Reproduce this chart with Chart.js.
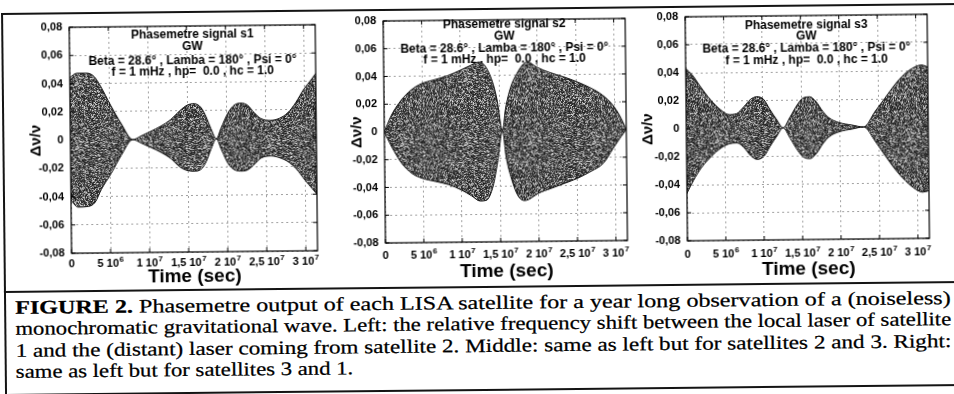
<!DOCTYPE html>
<html><head><meta charset="utf-8">
<script src="https://cdn.jsdelivr.net/npm/chart.js@4.4.1/dist/chart.umd.min.js"></script>
<style>
html,body{margin:0;padding:0;background:#fff;width:954px;height:394px;overflow:hidden}
#page{position:absolute;left:0;top:0;width:954px;height:394px;transform:rotate(-0.6deg);transform-origin:477px 197px}
.rule{position:absolute;background:#141414}
canvas{position:absolute}
.cap{position:absolute;left:14px;font-family:"Liberation Serif","Times New Roman",serif;font-size:19px;line-height:21.5px;color:#000;white-space:nowrap;transform-origin:0 50%;-webkit-text-stroke:0.25px #000}
</style>
</head><body>
<div id="page">
  <div class="rule" style="left:3px;top:8px;width:960px;height:2px"></div>
  <div class="rule" style="left:3px;top:8px;width:2px;height:384px"></div>
  <div class="rule" style="left:3px;top:285.5px;width:960px;height:2px"></div>
  <div class="rule" style="left:3px;top:389px;width:960px;height:2px"></div>
  <canvas id="c1" width="325" height="290" style="left:0px;top:0px"></canvas>
  <canvas id="c2" width="315" height="290" style="left:325px;top:0px"></canvas>
  <canvas id="c3" width="314" height="290" style="left:640px;top:0px"></canvas>
  <div class="cap j" style="top:291.5px"><b>FIGURE 2.</b> Phasemetre output of each LISA satellite for a year long observation of a (noiseless)</div>
  <div class="cap j" style="top:313px">monochromatic gravitational wave. Left: the relative frequency shift between the local laser of satellite</div>
  <div class="cap j" style="top:334.5px">1 and the (distant) laser coming from satellite 2. Middle: same as left but for satellites 2 and 3. Right:</div>
  <div class="cap" id="last" style="top:356px">same as left but for satellites 3 and 1.</div>
</div>
<script>
// ---------- data ----------
const timeTicks = [0, 5e6, 1e7, 1.5e7, 2e7, 2.5e7, 3e7];
const timeTickBase = ['0', '5 10', '1 10', '1,5 10', '2 10', '2,5 10', '3 10'];
const timeTickExp  = ['', '6', '7', '7', '7', '7', '7'];
const yTicks = [-0.08, -0.06, -0.04, -0.02, 0, 0.02, 0.04, 0.06, 0.08];
const yTickLabels = ['-0,08', '-0,06', '-0,04', '-0,02', '0', '0,02', '0,04', '0,06', '0,08'];
const timeMax = 3.15e7;
const xTitle = 'Time (sec)';
const yTitle = '\u0394\u03bd/\u03bd';

const title1 = ['Phasemetre signal s1', 'GW', 'Beta = 28.6\u00b0 , Lamba = 180\u00b0 , Psi = 0\u00b0', 'f = 1 mHz , hp=  0.0 , hc = 1.0'];
const title2 = ['Phasemetre signal s2', 'GW', 'Beta = 28.6\u00b0 , Lamba = 180\u00b0 , Psi = 0\u00b0', 'f = 1 mHz , hp=  0.0 , hc = 1.0'];
const title3 = ['Phasemetre signal s3', 'GW', 'Beta = 28.6\u00b0 , Lamba = 180\u00b0 , Psi = 0\u00b0', 'f = 1 mHz , hp=  0.0 , hc = 1.0'];

// signal s1 envelope (time in s, upper / lower extent of the oscillation)
const s1Time  = [0, 0.09e7, 0.22e7, 0.31e7, 0.39e7, 0.52e7, 0.65e7, 0.8e7, 0.91e7, 1.03e7, 1.16e7, 1.29e7, 1.4e7, 1.5e7, 1.59e7, 1.68e7, 1.74e7, 1.8e7, 1.87e7, 1.93e7, 2.02e7, 2.1e7, 2.19e7, 2.27e7, 2.36e7, 2.44e7, 2.57e7, 2.68e7, 2.79e7, 2.89e7, 3.0e7, 3.09e7, 3.15e7];
const s1Upper = [0.0443, 0.0474, 0.0474, 0.045, 0.0383, 0.0245, 0.0117, 0, 0.0026, 0.0057, 0.0093, 0.014, 0.0198, 0.024, 0.025, 0.022, 0.0157, 0.0074, 0, 0.0074, 0.018, 0.0236, 0.025, 0.0236, 0.018, 0.014, 0.0126, 0.014, 0.018, 0.025, 0.0348, 0.041, 0.0455];
const s1Lower = [-0.0426, -0.0474, -0.047, -0.044, -0.035, -0.0236, -0.011, 0, -0.0026, -0.0057, -0.0093, -0.014, -0.0198, -0.0224, -0.0228, -0.021, -0.0157, -0.0074, 0, -0.0074, -0.018, -0.0222, -0.0231, -0.0222, -0.018, -0.014, -0.0126, -0.014, -0.017, -0.022, -0.030, -0.036, -0.040];

// signal s2 envelope
const s2Time  = [0, 0.095e7, 0.224e7, 0.353e7, 0.483e7, 0.655e7, 0.828e7, 1.0e7, 1.13e7, 1.24e7, 1.32e7, 1.41e7, 1.47e7, 1.54e7, 1.58e7, 1.65e7, 1.73e7, 1.82e7, 1.88e7, 1.99e7, 2.16e7, 2.34e7, 2.51e7, 2.68e7, 2.85e7, 2.98e7, 3.07e7, 3.15e7];
const s2Upper = [0, 0.012, 0.0228, 0.030, 0.0344, 0.0372, 0.040, 0.044, 0.0473, 0.0497, 0.0468, 0.036, 0.0228, 0, 0.0156, 0.0312, 0.0408, 0.048, 0.0492, 0.0456, 0.0416, 0.0384, 0.0348, 0.0305, 0.0247, 0.0175, 0.0096, 0];
const s2Lower = [0, -0.0108, -0.0228, -0.030, -0.0336, -0.036, -0.0384, -0.0425, -0.0468, -0.0505, -0.050, -0.0396, -0.0228, 0, -0.018, -0.0348, -0.0468, -0.0505, -0.0495, -0.0456, -0.042, -0.0384, -0.0348, -0.030, -0.024, -0.0132, -0.006, 0];

// signal s3 envelope
const s3Time  = [0, 0.086e7, 0.19e7, 0.32e7, 0.45e7, 0.56e7, 0.66e7, 0.75e7, 0.84e7, 0.92e7, 1.01e7, 1.09e7, 1.18e7, 1.26e7, 1.35e7, 1.44e7, 1.52e7, 1.61e7, 1.69e7, 1.78e7, 1.86e7, 1.99e7, 2.16e7, 2.31e7, 2.46e7, 2.59e7, 2.72e7, 2.85e7, 2.98e7, 3.07e7, 3.15e7];
const s3Upper = [0.0431, 0.0383, 0.030, 0.0205, 0.0133, 0.0098, 0.0105, 0.0152, 0.0205, 0.0224, 0.0205, 0.0133, 0.0057, 0, 0.0074, 0.0157, 0.021, 0.0219, 0.0186, 0.0114, 0.0067, 0.0033, 0.0014, 0, 0.011, 0.0205, 0.030, 0.0376, 0.0424, 0.0438, 0.0424];
const s3Lower = [-0.046, -0.037, -0.028, -0.020, -0.014, -0.011, -0.0105, -0.014, -0.020, -0.0224, -0.020, -0.013, -0.0057, 0, -0.0074, -0.0157, -0.021, -0.0222, -0.0186, -0.0114, -0.0067, -0.0033, -0.0014, 0, -0.0105, -0.021, -0.031, -0.039, -0.045, -0.047, -0.046];

// ---------- drawing ----------
const SANS = '"Liberation Sans", Arial, Helvetica, sans-serif';
Chart.defaults.font.family = SANS;
Chart.defaults.color = '#000';

// speckled grey texture for the dense oscillation (deterministic hash tile)
const tile = document.createElement('canvas');
tile.width = 64; tile.height = 64;
(function(){
  const g = tile.getContext('2d');
  const img = g.createImageData(tile.width, tile.height);
  function h(x, y) {
    let n = (Math.imul(x + 1, 73856093) ^ Math.imul(y + 7, 19349663)) | 0;
    n ^= n >>> 16; n = Math.imul(n, 0x85ebca6b);
    n ^= n >>> 13; n = Math.imul(n, 0xc2b2ae35);
    n ^= n >>> 16;
    return (n >>> 0) / 4294967296;
  }
  for (let yy = 0; yy < tile.height; yy++) for (let xx = 0; xx < tile.width; xx++) {
    const r = h(xx, yy);
    const v = r < 0.45 ? 25 + r * 100 : (r < 0.8 ? 70 + (r - 0.45) * 230 : 150 + (r - 0.8) * 400);
    const k = (yy * tile.width + xx) * 4;
    img.data[k] = img.data[k + 1] = img.data[k + 2] = Math.round(v);
    img.data[k + 3] = 255;
  }
  g.putImageData(img, 0, 0);
})();

const panelDecor = {
  id: 'panelDecor',
  beforeDatasetsDraw(chart, args, opts) {
    const {ctx, chartArea: a} = chart;
    ctx.save();
    ctx.fillStyle = '#000';
    ctx.font = 'bold 12px ' + SANS;
    ctx.textAlign = 'center';
    ctx.textBaseline = 'middle';
    opts.lines.forEach((s, i) => ctx.fillText(s, (a.left + a.right) / 2, a.top + opts.offsets[i]));
    ctx.restore();
  },
  afterDraw(chart, args, opts) {
    const {ctx, chartArea: a, scales: {x, y}} = chart;
    ctx.save();
    ctx.strokeStyle = '#000';
    ctx.lineWidth = 1.2;
    ctx.strokeRect(a.left, a.top, a.right - a.left, a.bottom - a.top);
    ctx.lineWidth = 1;
    ctx.beginPath();
    x.ticks.forEach(t => {
      const p = x.getPixelForValue(t.value);
      ctx.moveTo(p, a.bottom); ctx.lineTo(p, a.bottom - 4);
      ctx.moveTo(p, a.top); ctx.lineTo(p, a.top + 4);
    });
    y.ticks.forEach(t => {
      const p = y.getPixelForValue(t.value);
      ctx.moveTo(a.left, p); ctx.lineTo(a.left + 4, p);
      ctx.moveTo(a.right, p); ctx.lineTo(a.right - 4, p);
    });
    ctx.stroke();
    // x tick labels with raised exponents
    ctx.fillStyle = '#000';
    ctx.textBaseline = 'middle';
    ctx.textAlign = 'left';
    const yc = a.bottom + opts.labelOffset;
    x.ticks.forEach((t, i) => {
      const p = x.getPixelForValue(t.value);
      ctx.font = 'bold 11px ' + SANS;
      const base = timeTickBase[i];
      const wb = ctx.measureText(base).width;
      ctx.font = 'bold 8px ' + SANS;
      const ex = timeTickExp[i];
      const we = ex ? ctx.measureText(ex).width + 0.5 : 0;
      const x0 = p - (wb + we) / 2;
      ctx.font = 'bold 11px ' + SANS;
      ctx.fillText(base, x0, yc);
      if (ex) { ctx.font = 'bold 8px ' + SANS; ctx.fillText(ex, x0 + wb + 0.5, yc - 4); }
    });
    ctx.restore();
  }
};

function makePanel(id, time, upper, lower, lines, g) {
  const canvas = document.getElementById(id);
  const ctx = canvas.getContext('2d');
  const pattern = ctx.createPattern(tile, 'repeat');
  const up = time.map((t, i) => ({x: t, y: upper[i]}));
  const lo = time.map((t, i) => ({x: t, y: lower[i]}));
  const grid = {color: '#a0a0a0', lineWidth: 1, drawTicks: false};
  new Chart(ctx, {
    type: 'line',
    data: {datasets: [
      {data: up, borderColor: '#111', borderWidth: 1, pointRadius: 0, fill: false, cubicInterpolationMode: 'monotone'},
      {data: lo, borderColor: '#111', borderWidth: 1, pointRadius: 0, fill: '-1', backgroundColor: pattern, cubicInterpolationMode: 'monotone'}
    ]},
    options: {
      responsive: false, animation: false, devicePixelRatio: 1, events: [],
      layout: {padding: {top: g.top, right: canvas.width - g.right, left: 0, bottom: 0}},
      plugins: {legend: {display: false}, tooltip: {enabled: false},
        panelDecor: {lines: lines, offsets: g.titleOffsets, labelOffset: g.labelOffset}},
      scales: {
        x: {
          type: 'linear', min: 0, max: timeMax,
          afterBuildTicks: s => { s.ticks = timeTicks.map(v => ({value: v})); },
          afterFit: s => { s.height = canvas.height - g.bottom; },
          ticks: {display: false},
          grid: grid,
          border: {display: false, dash: [2, 3]},
          title: {display: true, text: xTitle, font: {size: 19, weight: 'bold', lineHeight: 1}, padding: {top: 0, bottom: g.xTitlePad}}
        },
        y: {
          type: 'linear', min: -0.08, max: 0.08,
          afterBuildTicks: s => { s.ticks = yTicks.map(v => ({value: v})); },
          afterFit: s => { s.width = g.left; },
          ticks: {callback: (v, i) => yTickLabels[i], font: {size: 11, weight: 'bold'}, padding: 7},
          grid: grid,
          border: {display: false, dash: [2, 3]},
          title: {display: true, text: yTitle, font: {size: 15, weight: 'bold', lineHeight: 1}, padding: {top: g.yTitlePad, bottom: 0}}
        }
      }
    },
    plugins: [panelDecor]
  });
}

makePanel('c1', s1Time, s1Upper, s1Lower, title1,
  {left: 71, top: 23, right: 317, bottom: 249, yTitlePad: 29.5, xTitlePad: 6.5, labelOffset: 11, titleOffsets: [9, 21, 35, 46]});
makePanel('c2', s2Time, s2Upper, s2Lower, title2,
  {left: 60, top: 20, right: 302, bottom: 242, yTitlePad: 25.5, xTitlePad: 9, labelOffset: 13, titleOffsets: [4.5, 17, 29, 40]});
makePanel('c3', s3Time, s3Upper, s3Lower, title3,
  {left: 47, top: 19, right: 289, bottom: 243, yTitlePad: 1, xTitlePad: 7.5, labelOffset: 13.5, titleOffsets: [10, 21, 33, 45]});

// stretch the caption lines horizontally so they fill the justified text block
const capWidth = 936;
let refK = 1;
document.querySelectorAll('.cap.j').forEach((el, i) => {
  const k = capWidth / el.scrollWidth;
  el.style.transform = 'scaleX(' + k + ')';
  if (i === 1) refK = k;
});
document.getElementById('last').style.transform = 'scaleX(' + refK + ')';
</script>
</body></html>
